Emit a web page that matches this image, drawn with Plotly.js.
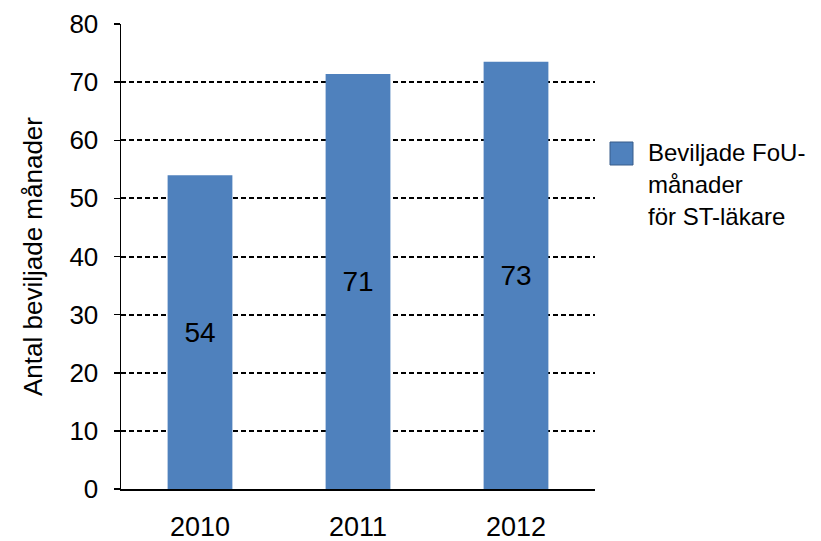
<!DOCTYPE html>
<html>
<head>
<meta charset="utf-8">
<script src="https://cdn.plot.ly/plotly-3.0.1.min.js"></script>
<style>html,body{margin:0;padding:0;background:#fff;}#chart{width:821px;height:541px;}</style>
</head>
<body>
<div id="chart"></div>
<script>
const years = ['2010', '2011', '2012'];
const months = [54, 71.4, 73.5];
const labels = ['54', '71', '73'];
const seriesName = ['Beviljade FoU-', 'månader', 'för ST-läkare'];
const yTicks = [0, 10, 20, 30, 40, 50, 60, 70, 80];
const yTitle = 'Antal beviljade månader';

const FONT = 'Liberation Sans, Arial, sans-serif';
const BLUE = '#4F81BD';

const trace = {
  type: 'bar',
  x: years,
  y: months,
  text: labels,
  textposition: 'inside',
  insidetextanchor: 'middle',
  textangle: 0,
  textfont: {family: FONT, size: 28, color: '#000'},
  marker: {color: BLUE, line: {width: 0}},
  width: 0.41,
  showlegend: false,
  hoverinfo: 'none'
};

const annotations = seriesName.map((t, i) => ({
  xref: 'paper', yref: 'paper',
  x: (646 - 121) / 474, y: (489 - (152 + 32 * i)) / 465,
  xanchor: 'left', yanchor: 'middle',
  text: t, showarrow: false,
  font: {family: FONT, size: 24, color: '#000'}
}));

const layout = {
  width: 821, height: 541,
  margin: {l: 121, r: 226, t: 24, b: 52, pad: 0},
  paper_bgcolor: '#fff', plot_bgcolor: '#fff',
  font: {family: FONT, color: '#000'},
  bargap: 0.59,
  xaxis: {
    type: 'category',
    showline: true, linecolor: '#000', linewidth: 1.5,
    showgrid: false, ticks: '',
    tickfont: {family: FONT, size: 27, color: '#000'},
    ticklabelstandoff: 13,
    automargin: false
  },
  yaxis: {
    range: [0, 80],
    tickvals: yTicks,
    showline: true, linecolor: '#000', linewidth: 1.5,
    ticks: 'outside', ticklen: 6, tickwidth: 1.5, tickcolor: '#000',
    showgrid: true, gridcolor: '#000', gridwidth: 2, griddash: '5px,3px',
    zeroline: false,
    tickfont: {family: FONT, size: 26, color: '#000'},
    ticklabelstandoff: 10,
    title: {text: yTitle, font: {family: FONT, size: 26, color: '#000'}, standoff: 19},
    automargin: false
  },
  shapes: [{
    type: 'rect', xref: 'paper', yref: 'paper',
    x0: (610 - 121) / 474, x1: (633 - 121) / 474,
    y0: (489 - 165) / 465, y1: (489 - 142) / 465,
    fillcolor: BLUE, line: {color: '#385D8A', width: 1}
  }],
  annotations: annotations
};

Plotly.newPlot('chart', [trace], layout, {staticPlot: true, displayModeBar: false});
</script>
</body>
</html>
